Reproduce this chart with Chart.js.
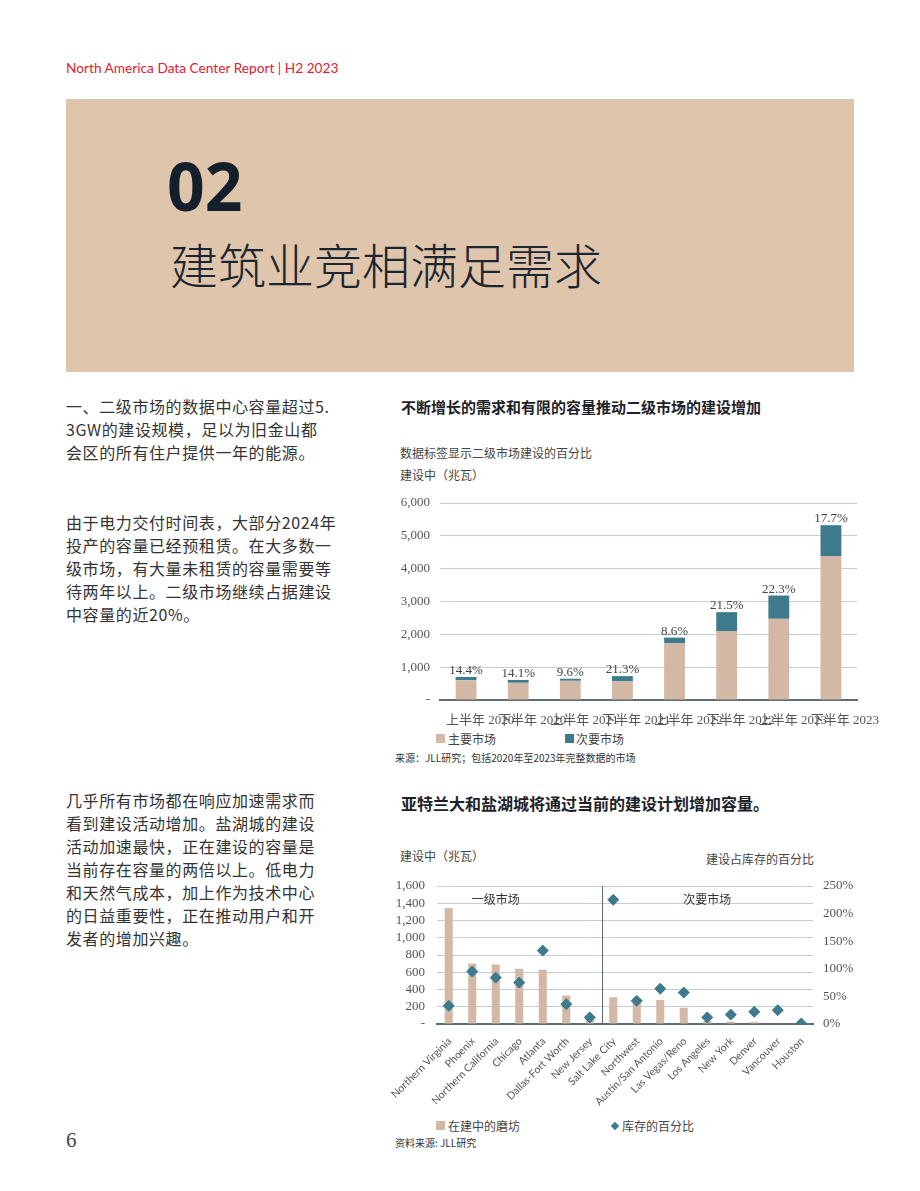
<!DOCTYPE html>
<html><head><meta charset="utf-8">
<script src="https://cdn.jsdelivr.net/npm/chart.js@4.4.0/dist/chart.umd.min.js"></script>
<style>
body{margin:0;width:920px;height:1191px;background:#fff;position:relative;overflow:hidden;font-family:"Noto Sans CJK SC","Noto Sans",sans-serif;}
.a{position:absolute;white-space:nowrap;}
#hdr{left:66px;top:59px;font-family:Lato,"Open Sans",sans-serif;font-size:13.7px;line-height:18px;color:#e0202d;}
#box{left:66px;top:99px;width:788px;height:273px;background:#dfc5ab;}
#num{left:167px;top:152px;font-family:"Open Sans",sans-serif;font-weight:700;font-size:66px;line-height:66px;color:#13202b;}
#ttl{left:170px;top:239px;font-size:48px;line-height:48px;font-weight:300;color:#1c2630;}
.p{left:66px;font-size:16px;line-height:23px;letter-spacing:0.6px;color:#333;}
.ct{left:401px;font-weight:700;color:#1d2229;line-height:20px;}
.sm{font-size:12px;line-height:16px;color:#444;}
.src{font-size:10px;line-height:14px;color:#333;}
.sq{width:9px;height:9px;}
.dm{width:6px;height:6px;transform:rotate(45deg);background:#3d7a8c;}
canvas{position:absolute;}
</style></head>
<body>
<div class="a" id="hdr">North America Data Center Report | H2 2023</div>
<div class="a" id="box"></div>
<div class="a" id="num">02</div>
<div class="a" id="ttl">建筑业竞相满足需求</div>

<div class="a p" style="top:395px">一、二级市场的数据中心容量超过5.<br>3GW的建设规模，足以为旧金山都<br>会区的所有住户提供一年的能源。</div>
<div class="a p" style="top:511px">由于电力交付时间表，大部分2024年<br>投产的容量已经预租赁。在大多数一<br>级市场，有大量未租赁的容量需要等<br>待两年以上。二级市场继续占据建设<br>中容量的近20%。</div>
<div class="a p" style="top:789px">几乎所有市场都在响应加速需求而<br>看到建设活动增加。盐湖城的建设<br>活动加速最快，正在建设的容量是<br>当前存在容量的两倍以上。低电力<br>和天然气成本，加上作为技术中心<br>的日益重要性，正在推动用户和开<br>发者的增加兴趣。</div>

<div class="a ct" style="top:397px;font-size:15px;">不断增长的需求和有限的容量推动二级市场的建设增加</div>
<div class="a sm" style="left:400px;top:445px;">数据标签显示二级市场建设的百分比</div>
<div class="a sm" style="left:400px;top:467px;">建设中（兆瓦）</div>
<canvas id="c1" width="490" height="240" style="left:395px;top:490px;width:490px;height:240px;"></canvas>
<div class="a sq" style="left:436px;top:734px;background:#d3b9a5;"></div>
<div class="a sm" style="left:448px;top:731px;">主要市场</div>
<div class="a sq" style="left:565px;top:734px;background:#3d7a8c;"></div>
<div class="a sm" style="left:576px;top:731px;">次要市场</div>
<div class="a src" style="left:395px;top:751px;">来源：JLL研究；包括2020年至2023年完整数据的市场</div>

<div class="a ct" style="top:793px;font-size:16px;">亚特兰大和盐湖城将通过当前的建设计划增加容量。</div>
<div class="a sm" style="left:400px;top:848px;">建设中（兆瓦）</div>
<div class="a sm" style="left:706px;top:851px;">建设占库存的百分比</div>
<canvas id="c2" width="485" height="236" style="left:380px;top:873px;width:485px;height:236px;"></canvas>
<div class="a sq" style="left:436px;top:1121px;background:#d3b9a5;"></div>
<div class="a sm" style="left:448px;top:1118px;">在建中的磨坊</div>
<div class="a dm" style="left:612px;top:1123px;"></div>
<div class="a sm" style="left:622px;top:1118px;">库存的百分比</div>
<div class="a src" style="left:395px;top:1136px;">资料来源: JLL研究</div>

<div class="a" style="left:66px;top:1128px;font-family:'Liberation Serif',serif;font-size:21px;line-height:24px;color:#444;">6</div>

<script>
// ---- Chart 1 data ----
const periods = ['上半年 2020','下半年 2020','上半年 2021','下半年 2021','上半年 2022','下半年 2022','上半年 2023','下半年 2023'];
const primaryMW = [600, 525, 585, 572, 1737, 2100, 2472, 4382];
const secondaryMW = [100, 86, 62, 155, 163, 575, 710, 942];
const secondaryPct = [14.4, 14.1, 9.6, 21.3, 8.6, 21.5, 22.3, 17.7];
const yTicks1 = [0, 1000, 2000, 3000, 4000, 5000, 6000];

// ---- Chart 2 data ----
const markets = ['Northern Virginia','Phoenix','Northern California','Chicago','Atlanta','Dallas-Fort Worth','New Jersey','Salt Lake City','Northwest','Austin/San Antonio','Las Vegas/Reno','Los Angeles','New York','Denver','Vancouver','Houston'];
const underConstructionMW = [1345, 700, 690, 640, 630, 330, 70, 310, 272, 278, 188, 35, 27, 22, 5, 0];
const pctOfInventory = [33, 95, 84, 75, 133, 36, 12, 225, 42, 64, 57, 12, 17, 22, 25, 1];
const yTicks2 = [0, 200, 400, 600, 800, 1000, 1200, 1400, 1600];
const y2Ticks = [0, 50, 100, 150, 200, 250];
const groupLabels = ['一级市场', '次要市场'];

const TAN = '#d3b9a5', TEAL = '#3d7a8c';
const GRID = '#c6cdd1', AXIS = '#5c6d75', TICK = '#555';
const SERIF = "'Liberation Serif', 'Noto Sans CJK SC', serif";

const fmt = v => v === 0 ? '-' : v.toLocaleString('en-US');
const noVPad = s => { s.paddingTop = 0; s.paddingBottom = 0; };

const pctLabels = {
  id: 'pctLabels',
  afterDatasetsDraw(chart) {
    const ctx = chart.ctx, meta = chart.getDatasetMeta(1);
    ctx.save();
    ctx.font = "13px " + SERIF;
    ctx.fillStyle = '#444';
    ctx.textAlign = 'center';
    ctx.textBaseline = 'alphabetic';
    meta.data.forEach((bar, i) => ctx.fillText(secondaryPct[i].toFixed(1) + '%', bar.x, bar.y - 3));
    ctx.restore();
  }
};

new Chart(document.getElementById('c1'), {
  type: 'bar',
  data: {
    labels: periods,
    datasets: [
      {label: '主要市场', data: primaryMW, backgroundColor: TAN, barPercentage: 0.8, categoryPercentage: 0.5},
      {label: '次要市场', data: secondaryMW, backgroundColor: TEAL, barPercentage: 0.8, categoryPercentage: 0.5}
    ]
  },
  options: {
    responsive: false, animation: false,
    layout: {padding: {top: 13, right: 28, left: 0, bottom: 0}},
    plugins: {legend: {display: false}, tooltip: {enabled: false}},
    scales: {
      x: {
        stacked: true,
        grid: {display: false},
        border: {color: AXIS, width: 2},
        ticks: {autoSkip: false, maxRotation: 0, minRotation: 0, color: TICK, labelOffset: 14, padding: 5,
                font: {family: SERIF, size: 13}},
        afterFit(s) { s.height = 30; s.paddingLeft = 0; s.paddingRight = 0; }
      },
      y: {
        stacked: true, min: 0, max: 6000,
        afterBuildTicks(s) { s.ticks = yTicks1.map(v => ({value: v})); },
        ticks: {autoSkip: false, callback: fmt, color: TICK, padding: 10, font: {family: SERIF, size: 13}},
        grid: {color: GRID, drawTicks: false},
        border: {display: false},
        afterFit(s) { s.width = 45; noVPad(s); }
      }
    }
  },
  plugins: [pctLabels]
});

const marketDivider = {
  id: 'marketDivider',
  afterDatasetsDraw(chart) {
    const ctx = chart.ctx, x = chart.scales.x, y = chart.scales.y, a = chart.chartArea;
    const px = Math.round((x.getPixelForValue(6) + x.getPixelForValue(7)) / 2) + 0.5;
    ctx.save();
    ctx.strokeStyle = AXIS; ctx.lineWidth = 1;
    ctx.beginPath(); ctx.moveTo(px, a.top); ctx.lineTo(px, a.bottom); ctx.stroke();
    ctx.font = "12px 'Noto Sans CJK SC', sans-serif";
    ctx.fillStyle = '#333'; ctx.textAlign = 'center'; ctx.textBaseline = 'middle';
    ctx.fillText(groupLabels[0], x.getPixelForValue(2), y.getPixelForValue(1440));
    ctx.fillText(groupLabels[1], x.getPixelForValue(11), y.getPixelForValue(1440));
    ctx.restore();
  }
};

new Chart(document.getElementById('c2'), {
  type: 'bar',
  data: {
    labels: markets,
    datasets: [
      {type: 'line', label: '库存的百分比', data: pctOfInventory, yAxisID: 'y1', showLine: false,
       pointStyle: 'rectRot', pointRadius: 5.5, pointBackgroundColor: TEAL, pointBorderColor: TEAL, borderColor: TEAL, order: 0},
      {label: '在建中的磨坊', data: underConstructionMW, yAxisID: 'y', backgroundColor: TAN,
       barPercentage: 0.8, categoryPercentage: 0.43, order: 1}
    ]
  },
  options: {
    responsive: false, animation: false,
    layout: {padding: {top: 13, right: 0, left: 0, bottom: 0}},
    plugins: {legend: {display: false}, tooltip: {enabled: false}},
    scales: {
      x: {
        grid: {display: false},
        border: {color: AXIS, width: 2},
        ticks: {autoSkip: false, maxRotation: 45, minRotation: 45, color: TICK, labelOffset: 1, padding: 3,
                font: {family: "Lato, 'Open Sans', sans-serif", size: 10.5}},
        afterFit(s) { s.height = 85; s.paddingLeft = 0; s.paddingRight = 0; }
      },
      y: {
        position: 'left', min: 0, max: 1600,
        afterBuildTicks(s) { s.ticks = yTicks2.map(v => ({value: v})); },
        ticks: {autoSkip: false, callback: fmt, color: TICK, padding: 12, font: {family: SERIF, size: 13}},
        grid: {color: GRID, drawTicks: false},
        border: {display: false},
        afterFit(s) { s.width = 57; noVPad(s); }
      },
      y1: {
        position: 'right', min: 0, max: 250,
        afterBuildTicks(s) { s.ticks = y2Ticks.map(v => ({value: v})); },
        ticks: {autoSkip: false, callback: v => v + '%', color: TICK, padding: 10, font: {family: SERIF, size: 13}},
        grid: {display: false, drawTicks: false},
        border: {display: false},
        afterFit(s) { s.width = 52; noVPad(s); }
      }
    }
  },
  plugins: [marketDivider]
});
</script>
</body></html>
